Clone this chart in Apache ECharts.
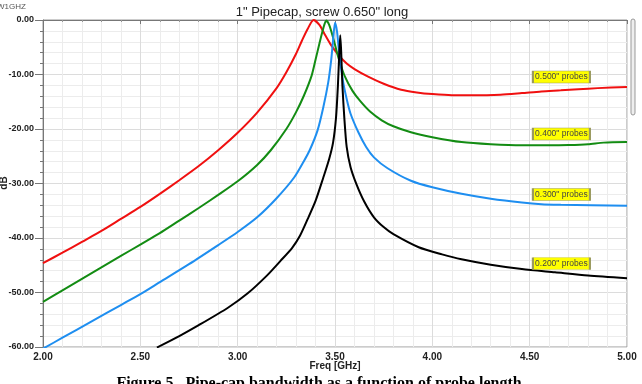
<!DOCTYPE html>
<html><head><meta charset="utf-8">
<script src="https://cdn.jsdelivr.net/npm/echarts@6/dist/echarts.min.js"></script>
<style>html,body{margin:0;padding:0;background:#fff;}#c{width:642px;height:384px;}</style>
</head><body><div id="c"></div>
<script>
// Data: [freq GHz, dB]
var red500 = [[2.00,-44.6],[2.10,-42.7],[2.20,-40.7],[2.30,-38.7],[2.40,-36.5],[2.50,-34.3],[2.60,-31.9],[2.70,-29.4],[2.80,-26.8],[2.90,-23.9],[3.00,-20.7],[3.10,-17.0],[3.20,-12.5],[3.25,-9.6],[3.30,-6.2],[3.33,-3.8],[3.36,-1.6],[3.39,0],[3.42,-0.9],[3.45,-2.8],[3.48,-4.6],[3.52,-6.5],[3.56,-8.0],[3.60,-9.0],[3.67,-10.4],[3.75,-11.7],[3.84,-12.8],[3.92,-13.3],[4.00,-13.6],[4.10,-13.8],[4.20,-13.8],[4.35,-13.7],[4.46,-13.4],[4.56,-13.1],[4.66,-12.9],[4.75,-12.7],[4.85,-12.5],[5.00,-12.3]];
var green400 = [[2.00,-51.7],[2.10,-49.6],[2.20,-47.5],[2.30,-45.4],[2.40,-43.3],[2.50,-41.2],[2.60,-39.1],[2.70,-36.8],[2.80,-34.5],[2.90,-32.1],[3.00,-29.6],[3.10,-26.6],[3.17,-23.9],[3.25,-20.0],[3.30,-16.9],[3.34,-13.9],[3.38,-10.2],[3.40,-7.3],[3.42,-4.3],[3.44,-1.5],[3.455,-0.1],[3.47,-0.9],[3.49,-3.2],[3.52,-7.2],[3.55,-10.3],[3.59,-13.0],[3.63,-14.9],[3.68,-16.8],[3.74,-18.4],[3.80,-19.5],[3.89,-20.6],[4.00,-21.5],[4.15,-22.4],[4.30,-22.8],[4.46,-23.0],[4.60,-23.0],[4.70,-22.95],[4.80,-22.8],[4.88,-22.5],[5.00,-22.4]];
var blue300 = [[2.00,-60.3],[2.10,-58.3],[2.25,-55.3],[2.40,-52.3],[2.50,-50.3],[2.60,-48.1],[2.75,-44.8],[2.90,-41.3],[3.00,-38.9],[3.10,-36.2],[3.20,-32.7],[3.29,-28.9],[3.34,-25.9],[3.37,-23.9],[3.41,-20.3],[3.44,-16.0],[3.465,-11.5],[3.48,-7.5],[3.49,-3.8],[3.50,-0.5],[3.51,-2.0],[3.52,-5.5],[3.54,-11.0],[3.56,-14.5],[3.58,-17.2],[3.62,-20.6],[3.66,-23.3],[3.70,-25.2],[3.77,-27.2],[3.89,-29.5],[4.00,-30.7],[4.15,-31.9],[4.30,-32.8],[4.46,-33.5],[4.56,-33.8],[4.66,-33.9],[5.00,-34.1]];
var black200 = [[2.585,-60.1],[2.70,-58.0],[2.80,-56.0],[2.95,-52.8],[3.05,-50.2],[3.15,-46.9],[3.22,-44.2],[3.28,-41.8],[3.32,-39.6],[3.36,-36.5],[3.40,-33.2],[3.44,-28.9],[3.47,-25.5],[3.49,-22.5],[3.505,-18],[3.515,-12],[3.522,-6],[3.527,-2.8],[3.532,-6],[3.538,-12],[3.548,-18],[3.56,-23.3],[3.58,-27.0],[3.61,-30.1],[3.65,-33.3],[3.70,-36.2],[3.75,-38.0],[3.80,-39.3],[3.93,-41.7],[4.05,-43.0],[4.15,-43.9],[4.30,-44.9],[4.46,-45.7],[4.63,-46.3],[4.80,-46.9],[5.00,-47.4]];
var seriesNames = ['0.500" probes','0.400" probes','0.300" probes','0.200" probes'];
var seriesColors = ['#f01010','#138c13','#1e8ef0','#000000'];
var labelCoords = [[4.663,-10.47],[4.663,-20.9],[4.663,-32.0],[4.663,-44.7]];
var xTicks = [2.0,2.5,3.0,3.5,4.0,4.5,5.0];
var yTicks = [0,-10,-20,-30,-40,-50,-60];

var datasets = [red500, green400, blue300, black200];
var FONT = 'Liberation Sans, Arial, sans-serif';
var chart = echarts.init(document.getElementById('c'), null, {renderer:'canvas'});
var series = datasets.map(function(d,i){
  return {
    name: seriesNames[i], type:'line', data:d, showSymbol:false, smooth:0.25,
    lineStyle:{color:seriesColors[i], width:2}, itemStyle:{color:seriesColors[i]},
    clip:true, z:2+i,
    markPoint:{
      symbol:'rect', symbolSize:[57,12],
      itemStyle:{color:'#ffff00', borderColor:'#9a9a60', borderWidth:1},
      label:{show:true, formatter:seriesNames[i], color:'#444', fontSize:8.5, fontFamily:FONT, position:'inside'},
      data:[{coord:labelCoords[i]}], z:20
    }
  };
});
chart.setOption({
  animation:false,
  backgroundColor:'#fff',
  grid:{left:43, top:20, width:584, height:327, show:true, borderColor:'#999', borderWidth:1,
    containLabel:false, outerBoundsMode:'none'},
  title:{text:'1" Pipecap, screw 0.650" long', left:317, textAlign:'center', top:1,
    textStyle:{fontSize:13, fontWeight:'normal', color:'#222', fontFamily:FONT}},
  xAxis:{type:'value', min:xTicks[0], max:xTicks[xTicks.length-1], interval:0.5,
    axisLine:{lineStyle:{color:'#777'}},
    axisTick:{show:true, length:4, lineStyle:{color:'#777'}},
    minorTick:{show:true, splitNumber:5, length:2, lineStyle:{color:'#999'}},
    axisLabel:{fontSize:10, fontWeight:'bold', color:'#222', fontFamily:FONT, margin:5,
      formatter:function(v){return v.toFixed(2);}},
    splitLine:{show:true, lineStyle:{color:'#dcdcdc'}},
    minorSplitLine:{show:true, lineStyle:{color:'#ececec'}}
  },
  yAxis:{type:'value', min:yTicks[yTicks.length-1], max:yTicks[0], interval:10,
    axisLine:{show:true, lineStyle:{color:'#777'}},
    axisTick:{show:true, length:8, lineStyle:{color:'#777'}},
    minorTick:{show:true, splitNumber:5, length:3, lineStyle:{color:'#777'}},
    axisLabel:{fontSize:9, fontWeight:'bold', color:'#222', fontFamily:FONT, margin:9,
      formatter:function(v){return v.toFixed(2);}},
    splitLine:{show:true, lineStyle:{color:'#dcdcdc'}},
    minorSplitLine:{show:true, lineStyle:{color:'#ececec'}}
  },
  series:series,
  graphic:[
    {type:'text', left:-3, top:3, style:{text:'W1GHZ', fontSize:8, fill:'#555', font:'8px '+FONT}},
    {type:'rect', shape:{x:631, y:19, width:4, height:96, r:2}, style:{fill:'#eeeeee', stroke:'#999', lineWidth:1}},
    {type:'text', x:335, y:366, style:{text:'Freq [GHz]', fill:'#222', font:'bold 10px '+FONT, align:'center', verticalAlign:'middle'}},
    {type:'text', x:4, y:183, rotation:Math.PI/2, style:{text:'dB', fill:'#222', font:'bold 10px '+FONT, align:'center', verticalAlign:'middle'}},
    {type:'text', left:'center', top:376, style:{text:'Figure 5.  Pipe-cap bandwidth as a function of probe length.', fill:'#000', font:'bold 16px "Liberation Serif", "Times New Roman", serif'}}
  ]
});
</script></body></html>
